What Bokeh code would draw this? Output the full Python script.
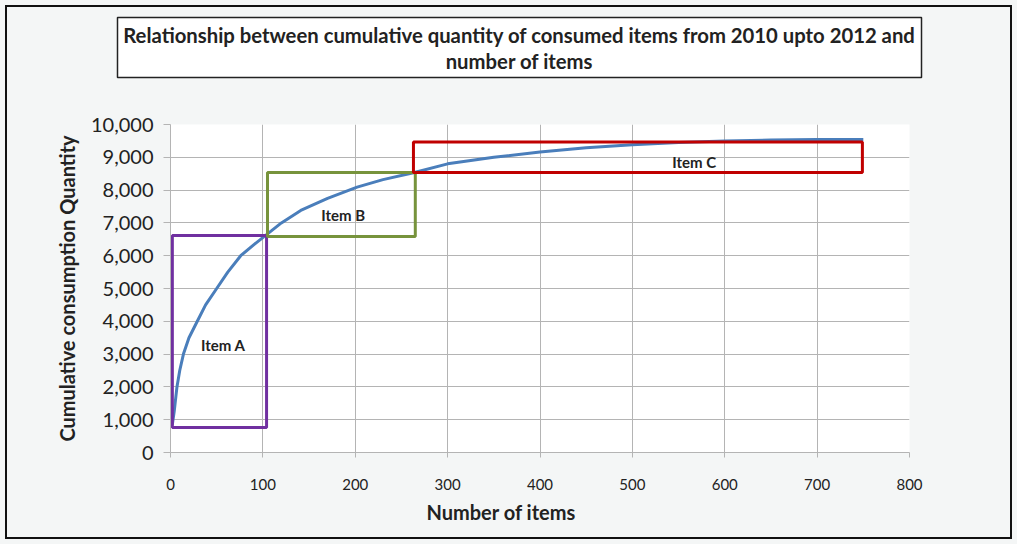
from bokeh.plotting import figure
from bokeh.layouts import column
from bokeh.models import Title, NumeralTickFormatter, FixedTicker, Range1d
from bokeh.core.properties import value
from bokeh.embed import file_html
from bokeh.resources import INLINE

# ---- data ----
items_x = [2, 4, 5, 7, 10, 14, 20, 29, 38, 50, 62, 76, 90, 103, 120, 141, 170, 202, 230, 263,
           300, 350, 400, 450, 500, 550, 600, 650, 700, 750]
cumulative_qty = [850, 1250, 1500, 2000, 2500, 3000, 3500, 4000, 4500, 5000, 5500, 6000, 6330,
                  6620, 7000, 7380, 7750, 8090, 8320, 8530, 8800, 9000, 9160, 9290, 9380, 9450,
                  9500, 9525, 9540, 9545]

groups = ["Item A", "Item B", "Item C"]
group_x_start = [2, 105, 263]
group_x_end = [104, 265, 749]
group_qty_low = [760, 6585, 8537]
group_qty_high = [6616, 8537, 9470]
group_label_x = [57, 187, 567]
group_label_y = [3290, 7226, 8850]
group_colors = ["#7030a0", "#77933c", "#c00000"]

x_ticks = [0, 100, 200, 300, 400, 500, 600, 700, 800]
y_ticks = [0, 1000, 2000, 3000, 4000, 5000, 6000, 7000, 8000, 9000, 10000]

title_lines = ["Relationship between cumulative quantity of consumed items from 2010 upto 2012 and",
               "number of items"]
x_title = "Number of items"
y_title = "Cumulative consumption Quantity"

W, H = 1017, 544
HT = 90                      # height of the title strip
FL, FT, FB = 170, 124, 452   # frame left / top / bottom in page pixels
FONT = "Lato"
BG = "#f4f6f6"
INK = "#222222"


def no_align(fig):
    try:
        fig.frame_align = False
    except Exception:
        pass


# ---------- title strip ----------
t = figure(width=W, height=HT, output_backend="svg", toolbar_location=None,
           x_range=Range1d(0, W), y_range=Range1d(HT, 0),
           x_axis_type=None, y_axis_type=None, min_border=0)
no_align(t)
t.grid.visible = False
t.outline_line_color = None
t.background_fill_alpha = 0
t.border_fill_alpha = 0
t.quad(left=[117], right=[921], top=[17], bottom=[77], fill_color="white",
       line_color=INK, line_width=1.5)
t.text(x=[519, 519], y=[34, 60], text=title_lines, text_font=value(FONT),
       text_font_style="bold", text_font_size="20.3px", text_color=INK,
       text_align="center", text_baseline="middle")

# ---------- main chart ----------
p = figure(width=W, height=H - HT, output_backend="svg", toolbar_location=None,
           x_range=Range1d(0, 800), y_range=Range1d(0, 10000),
           min_border_left=FL, min_border_right=W - 909, min_border_top=FT - HT,
           min_border_bottom=H - FB)
no_align(p)
p.border_fill_alpha = 0
p.background_fill_color = "white"
p.outline_line_color = None

grid_col = "#b4b4b4"
p.xgrid.ticker = FixedTicker(ticks=x_ticks)
p.ygrid.ticker = FixedTicker(ticks=y_ticks)
p.xgrid.grid_line_color = grid_col
p.ygrid.grid_line_color = grid_col

for ax in (p.xaxis[0], p.yaxis[0]):
    ax.axis_line_color = grid_col
    ax.major_tick_line_color = grid_col
    ax.minor_tick_line_color = None
    ax.major_tick_in = 0
    ax.major_label_text_font = FONT
    ax.major_label_text_color = INK
    ax.axis_label_text_font = FONT
    ax.axis_label_text_font_style = "bold"
    ax.axis_label_text_color = INK
    ax.axis_label_text_font_size = "20px"

p.xaxis.ticker = FixedTicker(ticks=x_ticks)
p.xaxis.major_tick_out = 5
p.xaxis.major_label_standoff = 21
p.xaxis.major_label_text_font_size = "15px"

p.yaxis.ticker = FixedTicker(ticks=y_ticks)
p.yaxis.formatter = NumeralTickFormatter(format="0,0")
p.yaxis.major_tick_out = 7
p.yaxis.major_label_standoff = 10
p.yaxis.major_label_text_font_size = "20px"
p.yaxis.axis_label = y_title
p.yaxis.axis_label_standoff = 9

# x axis title: placed left of the frame centre, as in the reference
p.add_layout(Title(text=x_title, align="left", offset=256, standoff=10,
                   text_font=FONT, text_font_style="bold", text_font_size="20px",
                   text_color=INK), "below")

# curve
p.line(items_x, cumulative_qty, line_color="#4a7ebb", line_width=3)

# group boxes
p.quad(left=group_x_start, right=group_x_end, bottom=group_qty_low, top=group_qty_high,
       fill_color=None, line_color=group_colors, line_width=3)
p.text(x=group_label_x, y=group_label_y, text=groups, text_font=value(FONT),
       text_font_style="bold", text_font_size="15px", text_color=INK,
       text_align="center", text_baseline="middle")

layout = column(t, p, spacing=0)
layout.styles = {"background-color": BG,
                 "box-shadow": f"inset 0 0 0 5px {BG}, inset 0 0 0 7px #111111"}

open("out.html", "w").write(file_html(layout, INLINE))
